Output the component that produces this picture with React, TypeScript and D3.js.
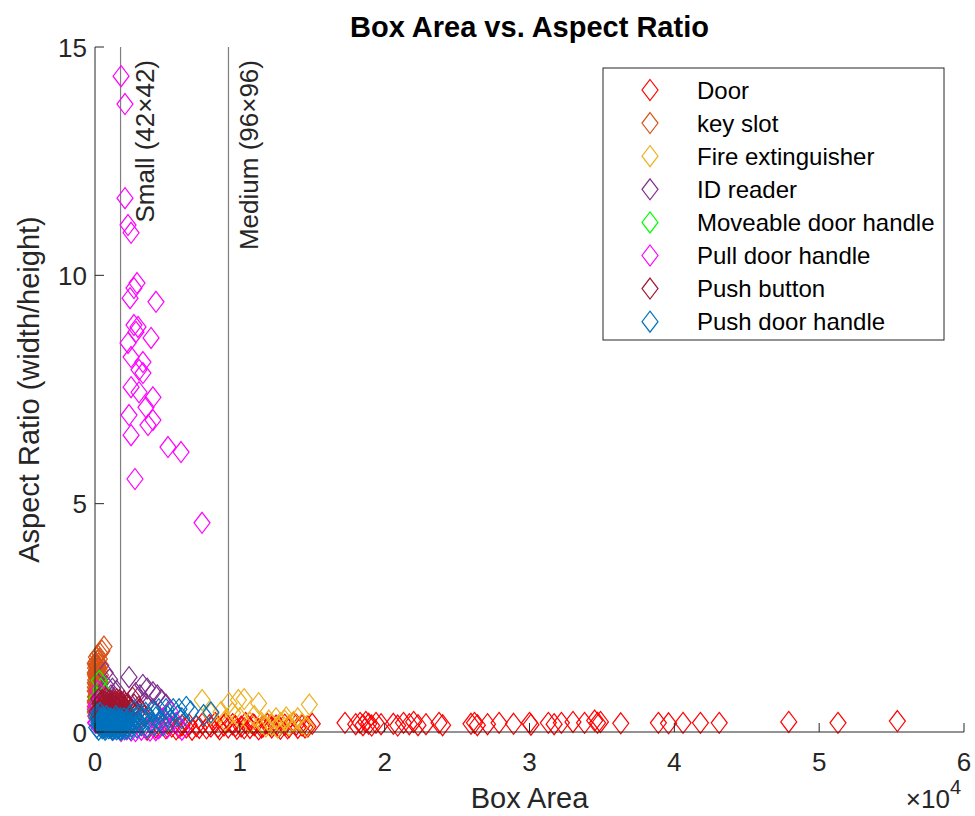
import React from "react";
import * as d3 from "d3";

// [box area, aspect ratio] per class
const door = [
  [3600, 0.05], [4200, 0.1], [4500, 0.12], [4900, 0.08], [5000, 0.18], [5300, 0.12], [5600, 0.06],
  [5800, 0.1], [6000, 0.15], [6300, 0.1], [6500, 0.16], [6700, 0.05], [7000, 0.13], [7200, 0.09],
  [7400, 0.18], [7700, 0.08], [7900, 0.15], [8000, 0.12], [8300, 0.2], [8500, 0.11], [8600, 0.06],
  [8900, 0.14], [9000, 0.19], [9200, 0.1], [9500, 0.17], [9700, 0.13], [9800, 0.07], [10100, 0.12],
  [10300, 0.08], [10400, 0.2], [10700, 0.09], [10900, 0.17], [11000, 0.15], [11300, 0.06], [11500, 0.1],
  [11600, 0.12], [11900, 0.18], [12100, 0.15], [12200, 0.1], [12500, 0.14], [12700, 0.12], [12800, 0.07],
  [13100, 0.16], [13300, 0.08], [13400, 0.11], [13700, 0.2], [13900, 0.16], [14000, 0.09], [14300, 0.14],
  [14500, 0.1], [14700, 0.12], [15000, 0.18],
  [17260, 0.2], [18000, 0.17], [18300, 0.2], [18500, 0.15], [18700, 0.22], [18900, 0.18], [19100, 0.14],
  [19400, 0.2], [19750, 0.17], [20600, 0.18], [20900, 0.14], [21300, 0.2], [21700, 0.17], [22000, 0.22],
  [22300, 0.15], [22850, 0.17], [23750, 0.2], [24000, 0.15], [25960, 0.18], [26200, 0.2], [26400, 0.15],
  [27100, 0.17], [27900, 0.2], [28900, 0.18], [30000, 0.2], [30100, 0.16], [31300, 0.2], [31700, 0.17],
  [32200, 0.2], [33000, 0.22], [33800, 0.2], [34500, 0.25], [34700, 0.2], [34900, 0.22], [36300, 0.19],
  [38900, 0.2], [39600, 0.19], [40600, 0.2], [41800, 0.2], [43100, 0.2], [47900, 0.22], [51300, 0.2],
  [55400, 0.24],
];

const keySlot = [
  [620, 1.87], [480, 1.78], [350, 1.72], [200, 1.68], [100, 1.64], [300, 1.6], [150, 1.56], [60, 1.52],
  [250, 1.5], [400, 1.46], [120, 1.44], [40, 1.4], [200, 1.38], [320, 1.34], [90, 1.32], [160, 1.28],
  [30, 1.26], [260, 1.22], [110, 1.2], [200, 1.16], [50, 1.14], [350, 1.1], [140, 1.08], [80, 1.04],
  [240, 1.02], [30, 0.98], [180, 0.96], [120, 0.92], [300, 0.9], [60, 0.88], [200, 0.84], [100, 0.82],
  [40, 0.78], [260, 0.76], [150, 0.72], [80, 0.7], [200, 0.66], [30, 0.64], [120, 0.6], [250, 0.58],
  [60, 0.55], [170, 0.52], [100, 0.48], [40, 0.45], [200, 0.42], [130, 0.38], [70, 0.34],
  [20, 1.5], [70, 1.46], [180, 1.42], [280, 1.4], [20, 1.3], [130, 1.35], [230, 1.3], [380, 1.25],
  [70, 1.22], [170, 1.18], [300, 1.15], [20, 1.08], [100, 1.06], [260, 1.06], [200, 0.98], [80, 0.95],
  [20, 0.9], [150, 0.86], [250, 0.8], [60, 0.76], [120, 0.74], [220, 0.7], [20, 0.68], [100, 0.64],
  [180, 0.6], [20, 0.56], [140, 0.5], [220, 0.48], [20, 0.44], [80, 0.4],
];

const fireExt = [
  [7400, 0.7], [9250, 0.63], [9900, 0.7], [10300, 0.72], [11300, 0.63], [14800, 0.6], [8700, 0.44],
  [9500, 0.42], [8000, 0.4], [10000, 0.3], [11000, 0.35], [11500, 0.2], [12000, 0.25], [12200, 0.15],
  [12500, 0.3], [12800, 0.2], [13100, 0.25], [13400, 0.15], [13700, 0.22], [14000, 0.3], [14300, 0.18],
  [11800, 0.12], [10700, 0.2], [9000, 0.25], [12600, 0.1], [13200, 0.32], [14600, 0.12],
];

const idReader = [
  [700, 1.3], [1000, 1.15], [2350, 1.2], [3300, 1.03], [3600, 0.95], [4000, 0.87], [4300, 0.8],
  [4600, 0.7], [4900, 0.6], [800, 1.0], [1200, 0.95], [1500, 0.9], [1100, 0.8], [1400, 0.75],
  [900, 0.7], [2800, 0.85], [3100, 0.8], [600, 0.85], [1800, 0.65], [2200, 0.6], [300, 0.45],
  [500, 0.35], [2500, 0.5], [3000, 0.55], [3500, 0.6], [4000, 0.5], [1500, 0.55],
];

const moveable = [[300, 1.12], [400, 0.95], [150, 0.75], [50, 0.48], [100, 0.3], [250, 0.65]];

const pullHandle = [
  [1800, 14.36], [2070, 13.75], [2070, 11.69], [2280, 11.1], [2490, 10.93], [2900, 9.83], [2690, 9.72],
  [2420, 9.5], [4210, 9.42], [2690, 8.91], [2970, 8.87], [2830, 8.76], [3870, 8.63], [2280, 8.52],
  [2490, 8.21], [3310, 8.1], [3040, 7.93], [3310, 7.86], [2490, 7.55], [3040, 7.44], [4000, 7.33],
  [3520, 7.11], [2350, 6.94], [4000, 6.83], [3660, 6.72], [2490, 6.5], [5040, 6.24], [5940, 6.13],
  [2760, 5.54], [7390, 4.58],
  [200, 0.9], [300, 0.7], [150, 0.55], [400, 0.4], [100, 0.2], [600, 0.1], [1200, 0.05], [1800, 0.02],
  [2500, 0.03], [3200, 0.05], [3800, 0.03], [4400, 0.08], [5000, 0.1], [4700, 0.3], [5200, 0.45],
  [900, 0.3], [500, 0.6], [2000, 0.1], [5600, 0.2], [6000, 0.05], [700, 0.4], [1000, 0.15],
  [1400, 0.08], [2200, 0.06], [2800, 0.02], [3500, 0.08], [4200, 0.04], [1600, 0.12],
  [30, 0.5], [60, 0.35], [100, 0.6], [40, 0.2],
];

const pushButton = [
  [250, 0.72], [500, 0.7], [750, 0.74], [1000, 0.7], [1250, 0.68], [1500, 0.72], [1800, 0.66], [2100, 0.62],
  [350, 0.62], [600, 0.6], [850, 0.64], [1100, 0.6], [1400, 0.58], [1650, 0.62], [1950, 0.56], [2300, 0.55],
  [300, 0.5], [550, 0.52], [800, 0.48], [1050, 0.52], [1300, 0.48], [1550, 0.5], [1850, 0.46], [2150, 0.45],
  [2500, 0.48], [400, 0.4], [650, 0.38], [900, 0.42], [1150, 0.38], [1400, 0.4], [1700, 0.36], [2000, 0.38],
  [2350, 0.35], [300, 0.28], [550, 0.3], [800, 0.26], [1050, 0.3], [1300, 0.26], [1600, 0.28], [1900, 0.25],
  [2200, 0.28], [450, 0.2], [700, 0.18], [950, 0.22], [1200, 0.16], [1500, 0.2], [1800, 0.15],
  [2700, 0.6], [2900, 0.42], [3100, 0.5], [3400, 0.35], [2600, 0.75], [150, 0.45],
  [400, 0.66], [700, 0.66], [950, 0.62], [1200, 0.64], [1450, 0.66], [1700, 0.7], [2000, 0.68], [2250, 0.6],
  [450, 0.56], [700, 0.54], [950, 0.56], [1200, 0.54], [1450, 0.52], [1750, 0.54], [2050, 0.5], [350, 0.45],
  [600, 0.46], [850, 0.44], [1100, 0.46], [1350, 0.44], [1600, 0.42], [1900, 0.42], [2200, 0.4], [500, 0.34],
  [750, 0.32], [1000, 0.35], [1250, 0.33], [1500, 0.32], [1800, 0.3], [2100, 0.32],
];

const pushHandle = [
  [200, 0.3], [350, 0.42], [150, 0.38], [300, 0.15], [450, 0.22], [500, 0.08], [600, 0.3], [650, 0.15],
  [700, 0.05], [750, 0.22], [800, 0.35], [850, 0.12], [900, 0.25], [950, 0.08], [1000, 0.18], [1050, 0.3],
  [1100, 0.1], [1150, 0.22], [1200, 0.05], [1250, 0.15], [1300, 0.28], [1350, 0.1], [1400, 0.2], [1450, 0.35],
  [1500, 0.06], [1550, 0.15], [1600, 0.25], [1650, 0.1], [1700, 0.18], [1750, 0.3], [1800, 0.05], [1850, 0.14],
  [1900, 0.22], [1950, 0.1], [2000, 0.3], [2100, 0.16], [2200, 0.08], [2300, 0.25], [2400, 0.35], [2500, 0.12],
  [2600, 0.2], [2700, 0.45], [2800, 0.3], [2900, 0.1], [3000, 0.22], [3100, 0.38], [3200, 0.15], [3300, 0.28],
  [3500, 0.42], [3600, 0.1], [3700, 0.3], [3800, 0.2], [4000, 0.45], [4100, 0.15], [4200, 0.32], [4400, 0.5],
  [4500, 0.25], [4700, 0.15], [4900, 0.5], [5000, 0.35], [5200, 0.25], [5400, 0.5], [5700, 0.35], [5800, 0.5],
  [6000, 0.3], [6300, 0.55], [6600, 0.45], [7500, 0.37], [8000, 0.43],
  [120, 0.1], [250, 0.05], [380, 0.2], [420, 0.12], [520, 0.25], [560, 0.18], [620, 0.1], [680, 0.25],
  [720, 0.14], [780, 0.08], [820, 0.2], [880, 0.3], [920, 0.16], [980, 0.24], [1020, 0.1], [1080, 0.2],
  [1120, 0.28], [1180, 0.12], [1220, 0.2], [1280, 0.06], [1320, 0.18], [1380, 0.26], [1420, 0.12], [1480, 0.22],
  [1520, 0.3], [1580, 0.08], [1620, 0.18], [1680, 0.24], [1720, 0.06], [1780, 0.15], [1820, 0.26], [1880, 0.08],
  [1920, 0.16], [1980, 0.2], [2050, 0.06], [2150, 0.22], [2250, 0.12], [2350, 0.18], [2450, 0.06], [2550, 0.28],
  [540, 0.35], [460, 0.3], [260, 0.2], [330, 0.25],
];

const classNames = [
  "Door", "key slot", "Fire extinguisher", "ID reader",
  "Moveable door handle", "Pull door handle", "Push button", "Push door handle",
];
const classColors = [
  "#FF0000", "#D95319", "#EDB120", "#7E2F8E", "#00FF00", "#FF00FF", "#A2142F", "#0072BD",
];
const classData = [door, keySlot, fireExt, idReader, moveable, pullHandle, pushButton, pushHandle];

const xTicks = [0, 10000, 20000, 30000, 40000, 50000, 60000];
const yTicks = [0, 5, 10, 15];
const sizeSides = [42, 96];
const sizeLabels = ["Small (42×42)", "Medium (96×96)"];

const W = 975;
const H = 816;
const plot = { left: 95, right: 964, top: 47, bottom: 732 };
const axisColor = "#262626";
const font = "'Liberation Sans', Arial, Helvetica, sans-serif";
const tickFont = 26;
const labelFont = 29;
const labelDx = [33.5, 29.5];

const diamond = "M0,-10.5L8,0L0,10.5L-8,0Z";

const App = () => {
  const x = d3.scaleLinear().domain([0, 60000]).range([plot.left, plot.right]);
  const y = d3.scaleLinear().domain([0, 15]).range([plot.bottom, plot.top]);

  return (
    <div style={{ position: "absolute", left: 0, top: 0 }}>
      <svg width={W} height={H} style={{ display: "block", background: "#fff", fontFamily: font }}>
        {/* size reference lines */}
        {sizeSides.map((s, i) => (
          <g key={s}>
            <line x1={x(s * s)} x2={x(s * s)} y1={plot.top} y2={plot.bottom} stroke="#7f7f7f" strokeWidth={1.2} />
            <text
              transform={`translate(${x(s * s) + labelDx[i]},${plot.top + 13}) rotate(-90)`}
              textAnchor="end"
              fontSize={tickFont}
              fill={axisColor}
            >
              {sizeLabels[i]}
            </text>
          </g>
        ))}

        {/* scatter */}
        {classData.map((pts, ci) => (
          <g key={classNames[ci]} fill="none" stroke={classColors[ci]} strokeWidth={1.2}>
            {pts.map((p, i) => (
              <path key={i} d={diamond} transform={`translate(${x(p[0])},${y(p[1])})`} />
            ))}
          </g>
        ))}

        {/* axes */}
        <g stroke={axisColor} strokeWidth={1} fill="none">
          <line x1={plot.left} x2={plot.left} y1={plot.top} y2={plot.bottom} />
          <line x1={plot.left} x2={plot.right} y1={plot.bottom} y2={plot.bottom} />
          {xTicks.map((t) => (
            <line key={t} x1={x(t)} x2={x(t)} y1={plot.bottom} y2={plot.bottom - 9} />
          ))}
          {yTicks.map((t) => (
            <line key={t} x1={plot.left} x2={plot.left + 9} y1={y(t)} y2={y(t)} />
          ))}
        </g>
        <g fill={axisColor} fontSize={tickFont}>
          {xTicks.map((t) => (
            <text key={t} x={x(t)} y={plot.bottom + 39} textAnchor="middle">
              {t / 10000}
            </text>
          ))}
          {yTicks.map((t) => (
            <text key={t} x={plot.left - 8} y={y(t) + 9.5} textAnchor="end">
              {t}
            </text>
          ))}
          <text x={plot.right - 3} y={808} textAnchor="end">
            ×10<tspan dy={-14} fontSize={20}>4</tspan>
          </text>
        </g>

        {/* labels */}
        <text x={(plot.left + plot.right) / 2} y={808} textAnchor="middle" fontSize={labelFont} fill={axisColor}>
          Box Area
        </text>
        <text
          transform={`translate(39,${(plot.top + plot.bottom) / 2}) rotate(-90)`}
          textAnchor="middle"
          fontSize={labelFont}
          fill={axisColor}
        >
          Aspect Ratio (width/height)
        </text>
        <text x={(plot.left + plot.right) / 2} y={37} textAnchor="middle" fontSize={labelFont} fontWeight="bold" fill="#000">
          Box Area vs. Aspect Ratio
        </text>

        {/* legend */}
        <g transform="translate(603,68)">
          <rect width={341} height={272} fill="#fff" stroke={axisColor} strokeWidth={1} />
          {classNames.map((n, i) => (
            <g key={n} transform={`translate(0,${22 + i * 33.1})`}>
              <path d={diamond} transform="translate(47,0)" fill="none" stroke={classColors[i]} strokeWidth={1.2} />
              <text x={94} y={8.5} fontSize={24} fill="#000">
                {n}
              </text>
            </g>
          ))}
        </g>
      </svg>
    </div>
  );
};

export default App;
